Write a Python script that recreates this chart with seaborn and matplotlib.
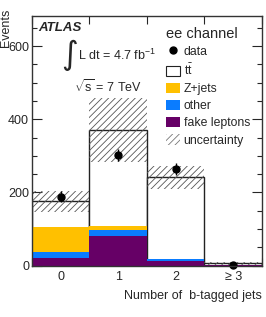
import matplotlib
matplotlib.use("Agg")
from matplotlib import pyplot as plt
from matplotlib.patches import Patch
from matplotlib.lines import Line2D
from matplotlib.ticker import MultipleLocator
import seaborn as sns
import numpy as np

# bin contents
bins = [0, 1, 2, 3]
bin_labels = ["0", "1", "2", "\u2265 3"]
edges = [-0.5, 0.5, 1.5, 2.5, 3.5]

data_vals = [189, 303, 264, 3]
data_errs = [14, 17, 16, 2]

ttbar = [72, 262, 223, 3]
zjets = [68, 11, 1, 0]
other = [15, 17, 4, 1]
fakes = [22, 80, 14, 2]

unc_low = [148, 283, 210, 1]
unc_high = [205, 459, 273, 11]

col_z = "#ffc000"
col_other = "#0a7cff"
col_fake = "#660066"

sns.set_style("ticks")
plt.rcParams["font.family"] = ["Liberation Sans", "DejaVu Sans"]
plt.rcParams["mathtext.fontset"] = "custom"
plt.rcParams["mathtext.rm"] = "Liberation Sans"
plt.rcParams["mathtext.it"] = "Liberation Sans:italic"
plt.rcParams["hatch.linewidth"] = 0.6
plt.rcParams["hatch.color"] = "#555555"

fig = plt.figure(figsize=(2.66, 3.17), dpi=100)
ax = fig.add_axes([0.120, 0.162, 0.865, 0.788])

fk = np.array(fakes)
ot = fk + np.array(other)
zj = ot + np.array(zjets)
tot = zj + np.array(ttbar)

# total MC as open bars
sns.histplot(x=bins, weights=tot, bins=edges, element="bars", color="white",
             edgecolor="#222222", linewidth=1.0, alpha=1, ax=ax, zorder=1)

# uncertainty band
ax.bar(bins, np.array(unc_high) - np.array(unc_low), bottom=unc_low, width=1.0,
       color="none", edgecolor="#555555", hatch="/////", linewidth=0, zorder=2)

# stacked backgrounds, drawn from the top layer down
for cum, col in [(zj, col_z), (ot, col_other), (fk, col_fake)]:
    sns.histplot(x=bins, weights=cum, bins=edges, element="bars", color=col,
                 linewidth=0, alpha=1, ax=ax, zorder=3)

# data
ax.errorbar(bins, data_vals, yerr=data_errs, fmt="o", color="black",
            markersize=5, elinewidth=1.0, capsize=0, zorder=5, clip_on=False)

ax.set_xlim(-0.5, 3.5)
ax.set_ylim(0, 683)
ax.set_xticks(bins)
ax.set_xticklabels(bin_labels)
ax.xaxis.set_minor_locator(MultipleLocator(1.0, offset=0.5))
ax.yaxis.set_major_locator(MultipleLocator(200))
ax.yaxis.set_minor_locator(MultipleLocator(50))
ax.tick_params(axis="x", which="major", length=0, pad=4, labelsize=9)
ax.tick_params(axis="x", which="minor", direction="in", length=6, top=True,
               bottom=True, width=0.8)
ax.tick_params(axis="y", which="major", direction="in", length=7, right=True,
               labelsize=9, pad=2, width=0.8)
ax.tick_params(axis="y", which="minor", direction="in", length=3.5, right=True,
               width=0.8)
ax.set_xlabel("")
ax.set_ylabel("")
for s in ax.spines.values():
    s.set_linewidth(1.0)
    s.set_color("#333333")
    s.set_zorder(6)

fig.text(0.985, 0.066, "Number of  b-tagged jets", ha="right", va="center",
         fontsize=9)
fig.text(0.0, 0.972, "Events", rotation=90, ha="left", va="top", fontsize=9)

ax.text(0.026, 0.953, "ATLAS", transform=ax.transAxes, fontsize=9.5,
        fontweight="bold", fontstyle="italic", va="center", ha="left")
ax.text(0.128, 0.84, "\u222b", transform=ax.transAxes, fontsize=23,
        va="center", ha="left", family=["DejaVu Sans"])
ax.text(0.200, 0.843, r"L dt = 4.7 fb$^{-1}$", transform=ax.transAxes,
        fontsize=9, va="center", ha="left")
ax.text(0.185, 0.718, r"$\sqrt{\mathrm{s}}$ = 7 TeV", transform=ax.transAxes,
        fontsize=9, va="center", ha="left")

handles = [
    Line2D([], [], marker="o", color="black", linestyle="none", markersize=5),
    Patch(facecolor="white", edgecolor="#222222", linewidth=0.8),
    Patch(facecolor=col_z, edgecolor="none"),
    Patch(facecolor=col_other, edgecolor="none"),
    Patch(facecolor=col_fake, edgecolor="none"),
    Patch(facecolor="white", edgecolor="#777777", hatch="/////", linewidth=0),
]
labels = ["data", r"$\mathrm{t\bar{t}}$", "Z+jets", "other", "fake leptons",
          "uncertainty"]
leg = ax.legend(handles, labels, loc="upper left", bbox_to_anchor=(0.55, 0.985),
                frameon=False, fontsize=8.8, title="ee channel",
                title_fontsize=10.5, handlelength=1.2, handleheight=0.95,
                handletextpad=0.25, labelspacing=0.38, borderpad=0.1,
                alignment="left")

fig.savefig("out.png", dpi=100)
